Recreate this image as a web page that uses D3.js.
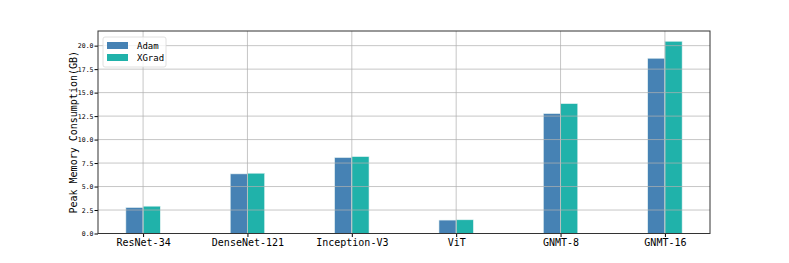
<!DOCTYPE html>
<html>
<head>
<meta charset="utf-8">
<script src="https://cdn.jsdelivr.net/npm/d3@7"></script>
<style>
  body { margin: 0; background: #fff; }
  text { font-family: "DejaVu Sans Mono", monospace; }
</style>
</head>
<body>
<svg id="chart" width="789" height="263"></svg>
<script>
var models = ["ResNet-34", "DenseNet-121", "Inception-V3", "ViT", "GNMT-8", "GNMT-16"];
var adam  = [2.77, 6.35, 8.09, 1.43, 12.77, 18.66];
var xgrad = [2.91, 6.42, 8.19, 1.46, 13.83, 20.47];
var yTicks = [0, 2.5, 5, 7.5, 10, 12.5, 15, 17.5, 20];
var seriesNames = ["Adam", "XGrad"];
var colors = ["#4682B4", "#20B2AA"];

var margin = {left: 98, right: 79, top: 31, bottom: 29.5},
    width = 789 - margin.left - margin.right,
    height = 263 - margin.top - margin.bottom;

var svg = d3.select("#chart");
var g = svg.append("g").attr("transform", "translate(" + margin.left + "," + margin.top + ")");

var bw = 0.165;
var x = d3.scaleLinear().domain([-bw - 0.267, models.length - 1 + bw + 0.267]).range([0, width]);
var y = d3.scaleLinear().domain([0, 21.56]).range([height, 0]);

// bars
[adam, xgrad].forEach(function(vals, s) {
  g.selectAll(".bar" + s)
    .data(vals)
    .enter().append("rect")
      .attr("x", function(d, i) { return s == 0 ? x(i - bw) : x(i); })
      .attr("width", x(bw) - x(0))
      .attr("y", function(d) { return y(d); })
      .attr("height", function(d) { return height - y(d); })
      .attr("fill", colors[s])
      .attr("stroke", "#e8f4f4")
      .attr("stroke-width", 0.6);
});

// grid on top
g.selectAll(".hgrid")
  .data(yTicks)
  .enter().append("line")
    .attr("x1", 0).attr("x2", width)
    .attr("y1", function(d) { return y(d); })
    .attr("y2", function(d) { return y(d); })
    .attr("stroke", "#b0b0b0").attr("stroke-opacity", 0.8).attr("stroke-width", 0.9);
g.selectAll(".vgrid")
  .data(models)
  .enter().append("line")
    .attr("y1", 0).attr("y2", height)
    .attr("x1", function(d, i) { return x(i); })
    .attr("x2", function(d, i) { return x(i); })
    .attr("stroke", "#b0b0b0").attr("stroke-opacity", 0.8).attr("stroke-width", 0.9);

// axes
var yAxis = d3.axisLeft(y).tickValues(yTicks).tickFormat(d3.format(".1f")).tickSize(3.5).tickPadding(1);
var yg = g.append("g").call(yAxis);
yg.select(".domain").remove();
yg.selectAll("text").style("font-size", "6.5px").attr("fill", "#000");

var xAxis = d3.axisBottom(x).tickValues(d3.range(models.length))
  .tickFormat(function(i) { return models[i]; }).tickSize(3.5).tickPadding(2);
var xg = g.append("g").attr("transform", "translate(0," + height + ")").call(xAxis);
xg.select(".domain").remove();
xg.selectAll("text").style("font-size", "10px").attr("fill", "#000");

g.append("rect")
  .attr("width", width).attr("height", height)
  .attr("fill", "none").attr("stroke", "#333").attr("stroke-width", 1);

// y label
svg.append("text")
  .attr("transform", "translate(73," + (margin.top + height / 2) + ") rotate(-90)")
  .attr("text-anchor", "middle")
  .attr("dominant-baseline", "central")
  .style("font-size", "10px")
  .text("Peak Memory Consumption(GB)");

// legend
var lg = svg.append("g").attr("transform", "translate(103,37)");
lg.append("rect")
  .attr("width", 63).attr("height", 30).attr("rx", 2)
  .attr("fill", "#fff").attr("fill-opacity", 0.8)
  .attr("stroke", "#d8d8d8").attr("stroke-width", 0.8);
seriesNames.forEach(function(n, i) {
  lg.append("rect")
    .attr("x", 4).attr("y", 5 + i * 12)
    .attr("width", 21).attr("height", 7)
    .attr("fill", colors[i]);
  lg.append("text")
    .attr("x", 34).attr("y", 8.5 + i * 12)
    .attr("dominant-baseline", "central")
    .style("font-size", "9px")
    .text(n);
});
</script>
</body>
</html>
